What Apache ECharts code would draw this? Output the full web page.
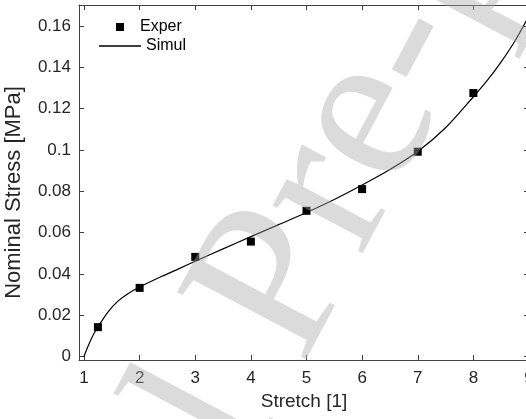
<!DOCTYPE html>
<html>
<head>
<meta charset="utf-8">
<script src="https://cdn.jsdelivr.net/npm/echarts@6/dist/echarts.min.js"></script>
<style>
html,body{margin:0;padding:0;background:#fff;}
#chart{width:526px;height:419px;}
</style>
</head>
<body>
<div id="chart"></div>
<script>
// Experimental data
const experX = [1.25, 2, 3, 4, 5, 6, 7, 8];
const experY = [0.0142, 0.0332, 0.0482, 0.0556, 0.0705, 0.0810, 0.0991, 0.1275];
// Simulated curve
const simulX = [1.0, 1.07, 1.16, 1.25, 1.43, 1.61, 1.79, 2.0, 2.4, 2.7, 3.0, 3.5, 4.0, 4.5, 5.0, 5.5, 6.0, 6.5, 7.0, 7.5, 8.0, 8.25, 8.5, 8.75, 9.0];
const simulY = [0.0, 0.0048, 0.0102, 0.0143, 0.0215, 0.0268, 0.0304, 0.0336, 0.0388, 0.0424, 0.0461, 0.0521, 0.0580, 0.0638, 0.0697, 0.0760, 0.0830, 0.0905, 0.0992, 0.1107, 0.1257, 0.1336, 0.1426, 0.1528, 0.1650];
// Tick labels
const xTicks = [1, 2, 3, 4, 5, 6, 7, 8, 9];
const yTicks = [0, 0.02, 0.04, 0.06, 0.08, 0.1, 0.12, 0.14, 0.16];

const FONT = '"Liberation Sans", Arial, Helvetica, sans-serif';
const axisColor = '#404040';
const textColor = '#262626';

const chart = echarts.init(document.getElementById('chart'), null, {renderer: 'canvas'});

const xBase = {
  type: 'value', min: 0.91, max: 9,
  splitLine: {show: false},
  axisLine: {show: true, onZero: false, lineStyle: {color: axisColor, width: 1}},
  axisTick: {show: true, inside: true, length: 5, customValues: xTicks, lineStyle: {color: axisColor}}
};
const yBase = {
  type: 'value', min: -0.0017, max: 0.1701,
  splitLine: {show: false},
  axisLine: {show: true, onZero: false, lineStyle: {color: axisColor, width: 1}},
  axisTick: {show: true, inside: true, length: 5, customValues: yTicks, lineStyle: {color: axisColor}}
};

const WM_FONT = '222px "Liberation Serif", "Times New Roman", serif';
const WM_FILL = 'rgba(170,170,170,0.42)';
const WM_ROT = 62 * Math.PI / 180;
const WM_X = 349, WM_Y = 391;

const option = {
  animation: false,
  backgroundColor: '#fff',
  grid: {left: 79, top: 5, right: -3, bottom: 59, outerBoundsMode: 'none', containLabel: false},
  xAxis: [
    Object.assign({}, xBase, {
      position: 'bottom',
      name: 'Stretch [1]', nameLocation: 'middle', nameGap: 31,
      nameTextStyle: {fontFamily: FONT, fontSize: 19, color: textColor},
      axisLabel: {customValues: xTicks, fontFamily: FONT, fontSize: 17, color: textColor, margin: 10,
        formatter: v => String(v)}
    }),
    Object.assign({}, xBase, {position: 'top', axisLabel: {show: false}})
  ],
  yAxis: [
    Object.assign({}, yBase, {
      position: 'left',
      name: 'Nominal Stress [MPa]', nameLocation: 'middle', nameGap: 54,
      nameTextStyle: {fontFamily: FONT, fontSize: 22, color: textColor, padding: [0, 20, 0, 0]},
      axisLabel: {customValues: yTicks, fontFamily: FONT, fontSize: 17, color: textColor, margin: 8,
        formatter: v => String(Math.round(v * 100) / 100)}
    }),
    Object.assign({}, yBase, {position: 'right', axisLabel: {show: false}})
  ],
  legend: [
    {
      orient: 'vertical', left: 111, top: 14,
      itemWidth: 8, itemHeight: 8,
      textStyle: {fontFamily: FONT, fontSize: 16, color: '#000', padding: [0, 0, 0, 11]},
      data: [{name: 'Exper', icon: 'rect', itemStyle: {color: '#000', opacity: 1}}]
    },
    {
      orient: 'vertical', left: 94, top: 33,
      itemWidth: 42, itemHeight: 1.3,
      textStyle: {fontFamily: FONT, fontSize: 16, color: '#000'},
      data: [{name: 'Simul', icon: 'rect', itemStyle: {color: '#000'}}]
    }
  ],
  series: [
    {
      name: 'Simul', type: 'line', xAxisIndex: 0, yAxisIndex: 0,
      data: simulX.map((x, i) => [x, simulY[i]]),
      smooth: 0.3, symbol: 'none',
      lineStyle: {color: '#000', width: 1.2},
      itemStyle: {color: '#000'},
      z: 2
    },
    {
      name: 'Exper', type: 'scatter', xAxisIndex: 0, yAxisIndex: 0,
      data: experX.map((x, i) => [x, experY[i]]),
      symbol: 'rect', symbolSize: 8,
      itemStyle: {color: '#000', opacity: 1},
      z: 3
    }
  ],
  graphic: [
    {
      type: 'text', x: WM_X, y: WM_Y, rotation: WM_ROT, z: 100, silent: true,
      style: {text: 'Pre-proof', fill: WM_FILL, font: WM_FONT, textAlign: 'left', textVerticalAlign: 'bottom'}
    },
    {
      type: 'text', x: WM_X, y: WM_Y, rotation: WM_ROT, z: 100, silent: true,
      style: {text: 'Journal ', fill: WM_FILL, font: WM_FONT, textAlign: 'right', textVerticalAlign: 'bottom'}
    }
  ]
};
chart.setOption(option);
</script>
</body>
</html>
